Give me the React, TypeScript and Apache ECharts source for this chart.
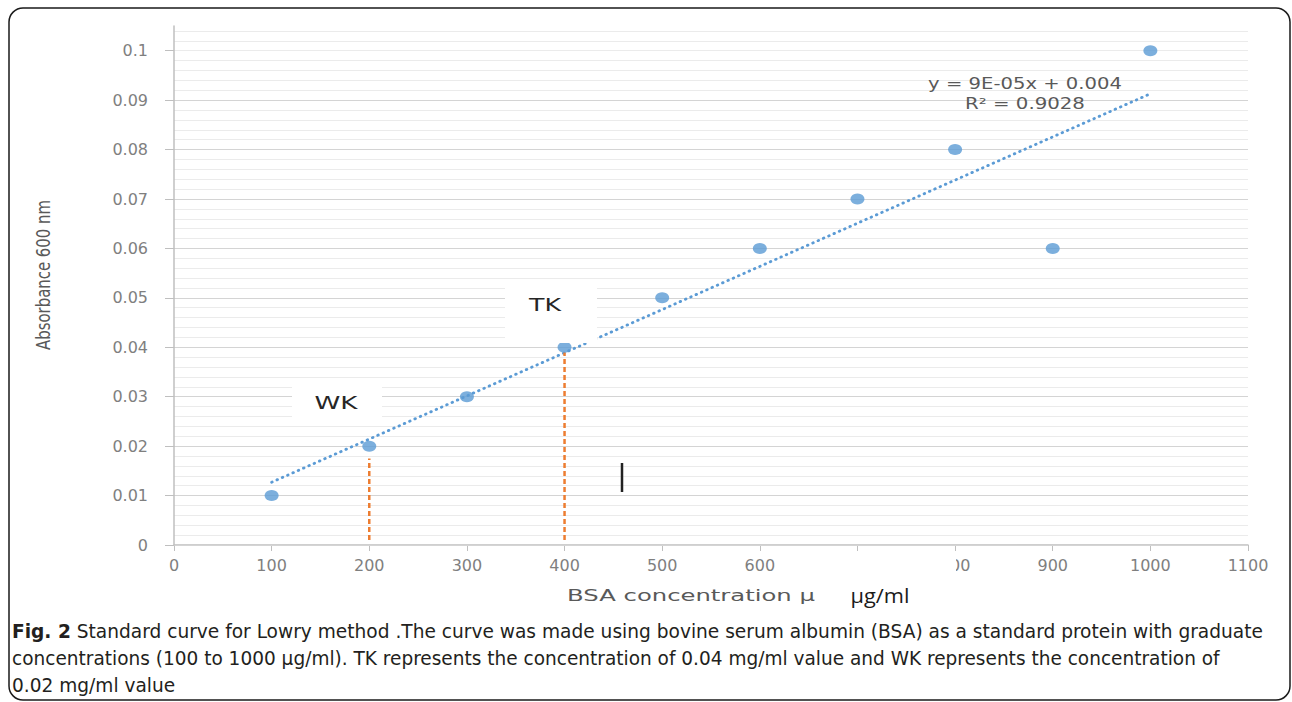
import React, { useEffect, useRef } from 'react';
import * as echarts from 'echarts';

// ---- data ----
const X_TICKS = [0, 100, 200, 300, 400, 500, 600, 700, 800, 900, 1000, 1100];
const HIDDEN_X_LABELS = [700];
const Y_TICKS = [0, 0.01, 0.02, 0.03, 0.04, 0.05, 0.06, 0.07, 0.08, 0.09, 0.1];
const BSA_CONC = [100, 200, 300, 400, 500, 600, 700, 800, 900, 1000];
const ABSORBANCE = [0.01, 0.02, 0.03, 0.04, 0.05, 0.06, 0.07, 0.08, 0.06, 0.1];
const TREND_X = [100, 1000];
const TREND_Y = [0.0127, 0.0913];
const GUIDE_X = [200, 400];
const GUIDE_TOP = [0.0175, 0.039];
const GUIDE_BOTTOM = 0.001;

const EQUATION = 'y = 9E-05x + 0.004';
const R2 = 'R² = 0.9028';
const CAPTION_BOLD = 'Fig. 2';
const CAPTION_1 = ' Standard curve for Lowry method .The curve was made using bovine serum albumin (BSA) as a standard protein with graduate';
const CAPTION_2 = 'concentrations (100 to 1000 μg/ml). TK represents the concentration of 0.04 mg/ml value and WK represents the concentration of';
const CAPTION_3 = '0.02 mg/ml value';

const SANS = "'DejaVu Sans', Verdana, sans-serif";
const NARROW = "'Liberation Sans Narrow', 'DejaVu Sans Condensed', 'Open Sans', sans-serif";
const CAP = "'Liberation Sans Narrow', 'DejaVu Sans Condensed', 'Open Sans', sans-serif";
const CALIBRI = "'Open Sans', 'Liberation Sans', sans-serif";

let ctx: CanvasRenderingContext2D | null = null;
function measure(text: string, font: string): number {
  if (!ctx) ctx = document.createElement('canvas').getContext('2d');
  if (!ctx) return text.length * 8;
  ctx.font = font;
  return ctx.measureText(text).width;
}

function fitText(opts: {
  text: string; x: number; y: number; width: number; size: number; family: string;
  weight?: string; color: string; align?: string; rotation?: number;
}) {
  const w = measure(opts.text, `${opts.weight || 'normal'} ${opts.size}px ${opts.family}`);
  const sx = w > 0 ? opts.width / w : 1;
  return {
    type: 'text',
    x: opts.x,
    y: opts.y,
    rotation: opts.rotation || 0,
    scaleX: sx,
    z: 60,
    style: {
      text: opts.text,
      fontSize: opts.size,
      fontFamily: opts.family,
      fontWeight: opts.weight || 'normal',
      fill: opts.color,
      textAlign: opts.align || 'center',
      align: opts.align || 'center',
      textVerticalAlign: 'middle',
      verticalAlign: 'middle',
    },
  };
}

export default function App() {
  const ref = useRef<HTMLDivElement>(null);

  useEffect(() => {
    if (!ref.current) return;
    const chart = echarts.init(ref.current, undefined, { renderer: 'svg' });

    const capSize = 19;
    const boldW = measure(CAPTION_BOLD, `bold ${capSize}px ${CAP}`);
    const line1W = boldW + measure(CAPTION_1, `normal ${capSize}px ${CAP}`);
    const s1 = 1251 / line1W;
    const line2W = measure(CAPTION_2, `normal ${capSize}px ${CAP}`);
    const s2 = 1209 / line2W;
    const s3 = (s1 + s2) / 2;

    const captionText = (text: string, y: number, sx: number, rich?: boolean) => ({
      type: 'text',
      x: 12,
      y,
      scaleX: sx,
      z: 60,
      style: {
        text,
        fontSize: capSize,
        fontFamily: CAP,
        fill: '#231f20',
        textAlign: 'left',
        align: 'left',
        textVerticalAlign: 'middle',
        verticalAlign: 'middle',
        rich: rich
          ? { b: { fontWeight: 'bold', fontSize: capSize, fontFamily: CAP, fill: '#231f20' } }
          : undefined,
      },
    });

    const minorColor = '#ebebeb';
    const majorColor = '#d4d4d4';

    const option: any = {
      animation: false,
      backgroundColor: '#ffffff',
      grid: { left: 174, right: 44, top: 26, bottom: 157, containLabel: false },
      xAxis: {
        type: 'value',
        min: 0,
        max: 1100,
        interval: 100,
        axisLine: { show: true, lineStyle: { color: '#bfbfbf', width: 1.5 } },
        axisTick: { show: true, length: 6, lineStyle: { color: '#bfbfbf', width: 1 } },
        axisLabel: {
          margin: 12,
          color: '#7f7f7f',
          fontSize: 16,
          fontFamily: SANS,
          customValues: X_TICKS,
          formatter: (v: number) => (HIDDEN_X_LABELS.indexOf(v) >= 0 ? '' : String(v)),
        },
        splitLine: { show: false },
      },
      yAxis: [
        {
          type: 'value',
          min: 0,
          max: 0.105,
          interval: 0.01,
          z: 2,
          axisLine: { show: true, lineStyle: { color: '#bfbfbf', width: 1.5 } },
          axisTick: { show: true, length: 9, customValues: Y_TICKS, lineStyle: { color: '#bfbfbf', width: 1 } },
          axisLabel: {
            margin: 26,
            color: '#7f7f7f',
            fontSize: 16,
            fontFamily: SANS,
            customValues: Y_TICKS,
            formatter: (v: number) => String(parseFloat(Number(v).toFixed(3))),
          },
          splitLine: {
            show: true,
            showMaxLine: false,
            lineStyle: { color: majorColor, width: 1 },
          },
        },
        {
          // minor grid (every 0.002)
          type: 'value',
          position: 'left',
          min: 0,
          max: 0.105,
          interval: 0.002,
          z: 0,
          alignTicks: false,
          axisLine: { show: false },
          axisTick: { show: false },
          axisLabel: { show: false },
          splitLine: {
            show: true,
            showMaxLine: false,
            lineStyle: { color: minorColor, width: 1 },
          },
        },
      ],
      series: [
        {
          type: 'line',
          data: TREND_X.map((x, i) => [x, TREND_Y[i]]),
          symbol: 'none',
          z: 3,
          lineStyle: { color: '#5b9bd5', width: 2.8, type: [0.6, 5.2], cap: 'round' },
          silent: true,
        },
        ...GUIDE_X.map((x, i) => ({
          type: 'line',
          data: [[x, GUIDE_BOTTOM], [x, GUIDE_TOP[i]]],
          symbol: 'none',
          z: 3,
          lineStyle: { color: '#ed7d31', width: 2.5, type: [5, 3] },
          silent: true,
        })),
        {
          type: 'scatter',
          data: BSA_CONC.map((x, i) => [x, ABSORBANCE[i]]),
          symbol: 'circle',
          symbolSize: [14, 11],
          z: 4,
          itemStyle: { color: '#5b9bd5' },
        },
      ],
      graphic: {
        elements: [
          // figure frame
          {
            type: 'rect',
            z: 40,
            shape: { x: 9, y: 8, width: 1281, height: 692, r: 14 },
            style: { fill: 'none', stroke: '#1a1a1a', lineWidth: 1.5 },
          },
          // white label boxes
          { type: 'rect', z: 50, shape: { x: 505, y: 284, width: 92, height: 59 }, style: { fill: '#ffffff' } },
          { type: 'rect', z: 50, shape: { x: 292, y: 379, width: 90, height: 47 }, style: { fill: '#ffffff' } },
          { type: 'rect', z: 50, shape: { x: 820, y: 553, width: 136, height: 55 }, style: { fill: '#ffffff' } },
          fitText({ text: 'TK', x: 545, y: 305, width: 32, size: 17, family: SANS, color: '#262626' }),
          fitText({ text: 'WK', x: 336, y: 403, width: 43, size: 17, family: SANS, color: '#262626' }),
          fitText({ text: EQUATION, x: 1025, y: 84, width: 194, size: 15, family: SANS, color: '#595959' }),
          fitText({ text: R2, x: 1025, y: 104, width: 120, size: 15, family: SANS, color: '#595959' }),
          fitText({ text: 'BSA concentration µ', x: 691, y: 596, width: 248, size: 16, family: SANS, color: '#595959' }),
          fitText({ text: 'µg/ml', x: 880, y: 595, width: 59, size: 20, family: CALIBRI, color: '#1a1a1a' }),
          fitText({ text: 'Absorbance 600 nm', x: 43, y: 275, width: 150, size: 20, family: NARROW, color: '#595959', rotation: Math.PI / 2 }),
          // stray cursor mark
          { type: 'line', z: 55, shape: { x1: 622, y1: 463, x2: 622, y2: 492 }, style: { stroke: '#222222', lineWidth: 2.5 } },
          // caption
          captionText(`{b|${CAPTION_BOLD}}${CAPTION_1}`, 632, s1, true),
          captionText(CAPTION_2, 659, s2),
          captionText(CAPTION_3, 686, s3),
        ],
      },
    };

    chart.setOption(option);
    return () => chart.dispose();
  }, []);

  return (
    <div
      ref={ref}
      style={{ position: 'absolute', left: 0, top: 0, width: 1292, height: 702, background: '#ffffff' }}
    />
  );
}
